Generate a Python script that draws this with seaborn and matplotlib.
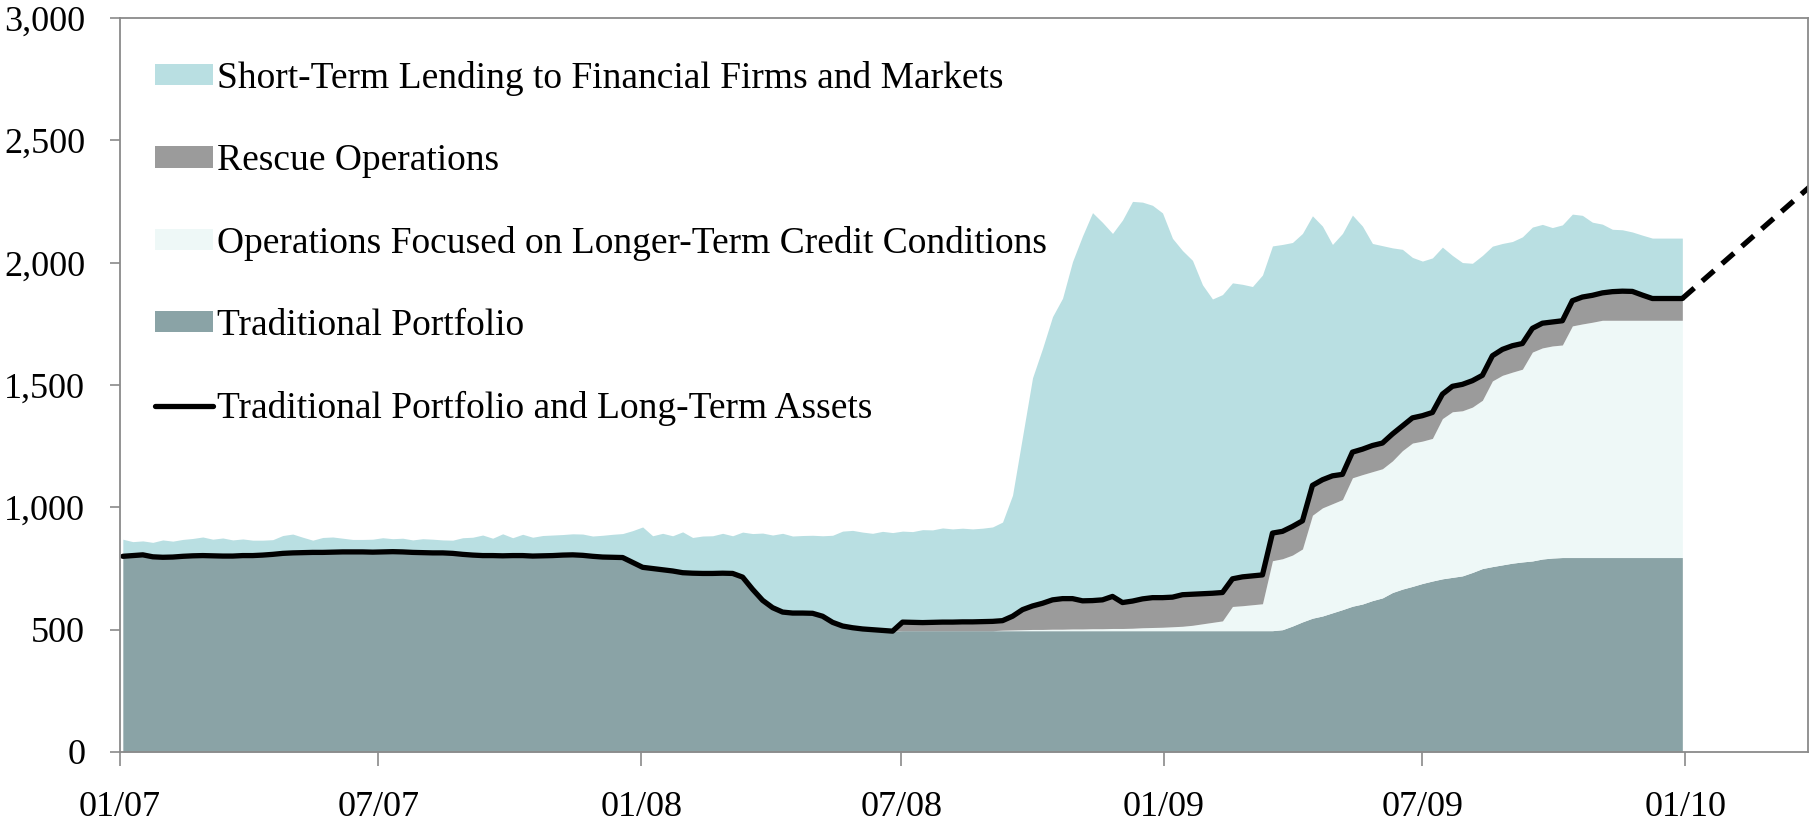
import numpy as np
import pandas as pd
import matplotlib
matplotlib.use("Agg")
import matplotlib.pyplot as plt
import matplotlib.dates as mdates
from matplotlib.patches import Patch
from matplotlib.lines import Line2D
import seaborn as sns

# weekly data, $ billions
dates = pd.date_range("2007-01-03", periods=157, freq="7D")

traditional = ([800, 803, 806, 798, 796, 797, 800, 802, 803, 802, 801, 801, 803, 803, 805, 808, 812, 814, 815, 816,
                816, 817, 818, 818, 818, 817, 818, 819, 818, 816, 815, 814, 814, 812, 808, 805, 803, 803, 802, 803,
                803, 801, 802, 803, 805, 806, 804, 800, 797, 796, 795, 775, 755, 750, 745, 740, 733, 731, 730, 730,
                731, 730, 715, 665, 620, 590, 572, 568, 568, 567, 555, 530, 515, 508, 503, 500, 497, 494]
               + [496] * 38
               + [500, 515, 532, 547, 556, 569, 582, 596, 605, 619, 630, 652, 666, 677, 689, 699, 708, 714, 720, 734,
                  750, 758, 765, 772, 777, 781, 789, 793]
               + [795] * 13)

longer_term = ([0] * 88
               + [2, 3, 4, 5, 5, 6, 6, 7, 7, 8, 8, 9, 9, 10, 12, 13, 14, 16, 18, 22,
                  28, 34, 40, 99, 102, 106, 110, 286, 290, 290, 298, 421, 442, 446, 450, 525, 529, 527, 528, 538,
                  566, 586, 582, 583, 655, 677, 675, 676, 688, 759, 775, 781, 788, 854, 863, 867, 869, 947, 955, 962]
               + [970] * 9)

rescue = ([0] * 78
          + [35, 34, 33, 34, 35, 35, 36, 36, 37, 38, 39, 56, 82, 96, 107, 120, 125, 124, 115, 115,
             118, 131, 106, 111, 118, 122, 121, 121, 129, 127, 123, 119, 116, 113, 118, 118, 118, 113, 112, 117,
             115, 122, 115, 114, 103, 105, 104, 107, 105, 110, 101, 103, 104, 106, 100, 104, 108, 108, 102, 103,
             106, 108, 105, 97, 101, 98, 99, 103, 110, 110, 112, 117, 119, 118, 103, 89, 89, 89, 89])

# top of the stack (total assets)
total = [870, 860, 863, 857, 867, 862, 869, 873, 879, 870, 875, 867, 871, 866, 866, 868, 885, 891, 878, 866,
         877, 879, 874, 869, 869, 870, 876, 872, 874, 867, 872, 870, 867, 866, 876, 878, 887, 874, 892, 876,
         890, 878, 885, 887, 889, 892, 891, 883, 886, 890, 893, 905, 920, 884, 894, 884, 900, 877, 883, 884,
         894, 884, 899, 893, 895, 887, 894, 883, 885, 886, 884, 886, 903, 906, 899, 894, 902, 897, 903, 901,
         909, 908, 916, 912, 915, 912, 915, 920, 940, 1050, 1290, 1530, 1650, 1780, 1855, 2005, 2110, 2205, 2165, 2120,
         2175, 2251, 2248, 2235, 2204, 2100, 2050, 2010, 1910, 1852, 1870, 1918, 1912, 1903, 1950, 2069, 2075, 2083, 2120, 2192,
         2150, 2075, 2120, 2195, 2150, 2079, 2070, 2061, 2055, 2022, 2007, 2020, 2064, 2030, 2001, 1998, 2030, 2068, 2079, 2087,
         2106, 2146, 2157, 2144, 2155, 2199, 2194, 2166, 2158, 2137, 2135, 2126, 2113, 2101, 2101, 2101, 2101]

proj_dates = pd.to_datetime(["2009-12-30", "2010-03-31"])
proj_values = [1854, 2320]

labels = ["Short-Term Lending to Financial Firms and Markets",
          "Rescue Operations",
          "Operations Focused on Longer-Term Credit Conditions",
          "Traditional Portfolio",
          "Traditional Portfolio and Long-Term Assets"]
c_short = "#b9dfe2"
c_rescue = "#9b9b9b"
c_long = "#eef8f7"
c_trad = "#8aa3a6"

trad = np.array(traditional, float)
lng = np.array(longer_term, float)
res = np.array(rescue, float)
line_vals = trad + lng + res
short = np.array(total, float) - line_vals

sns.set_theme(style="white")
plt.rcParams["font.family"] = ["Liberation Serif", "DejaVu Serif"]
plt.rcParams["text.color"] = "black"

fig, ax = plt.subplots(figsize=(18.12, 8.27), dpi=100)
fig.subplots_adjust(left=0.0662, right=0.9978, top=0.978, bottom=0.0907)

ax.stackplot(dates, trad, lng, res, short, colors=[c_trad, c_long, c_rescue, c_short], linewidth=0)
sns.lineplot(x=dates, y=line_vals, color="black", linewidth=3.8, ax=ax)
sns.lineplot(x=proj_dates, y=proj_values, color="black", linewidth=3.8, ax=ax)
ax.lines[-1].set_dashes((3.0, 2.0))

ax.set_xlim(pd.Timestamp("2007-01-01"), pd.Timestamp("2010-03-28"))
ax.set_ylim(0, 3000)
ax.set_yticks(range(0, 3001, 500))
ax.yaxis.set_major_formatter(matplotlib.ticker.FuncFormatter(lambda v, p: f"{int(v):,}"))
ax.xaxis.set_major_locator(mdates.MonthLocator(bymonth=[1, 7]))
ax.xaxis.set_major_formatter(mdates.DateFormatter("%m/%y"))
ax.set_xlabel("")
ax.set_ylabel("")

for s in ax.spines.values():
    s.set_color("#8a8a8a")
    s.set_linewidth(1.3)
ax.tick_params(axis="y", which="major", direction="out", length=7, width=1.2, color="#8a8a8a",
               labelcolor="black", labelsize=26, pad=18, left=True)
ax.tick_params(axis="x", which="major", direction="out", length=10, width=1.2, color="#8a8a8a",
               labelcolor="black", labelsize=26, pad=18, bottom=True)

handles = [Patch(facecolor=c_short, edgecolor="none"),
           Patch(facecolor=c_rescue, edgecolor="none"),
           Patch(facecolor=c_long, edgecolor="none"),
           Patch(facecolor=c_trad, edgecolor="none"),
           Line2D([0], [0], color="black", linewidth=3.8)]
ax.legend(handles, labels, loc="upper left", bbox_to_anchor=(0.012, 0.962), frameon=False,
          fontsize=27, handlelength=1.55, handleheight=0.5, handletextpad=0.1, labelspacing=1.27,
          borderaxespad=0, labelcolor="black")

fig.savefig("out.png", dpi=100)
